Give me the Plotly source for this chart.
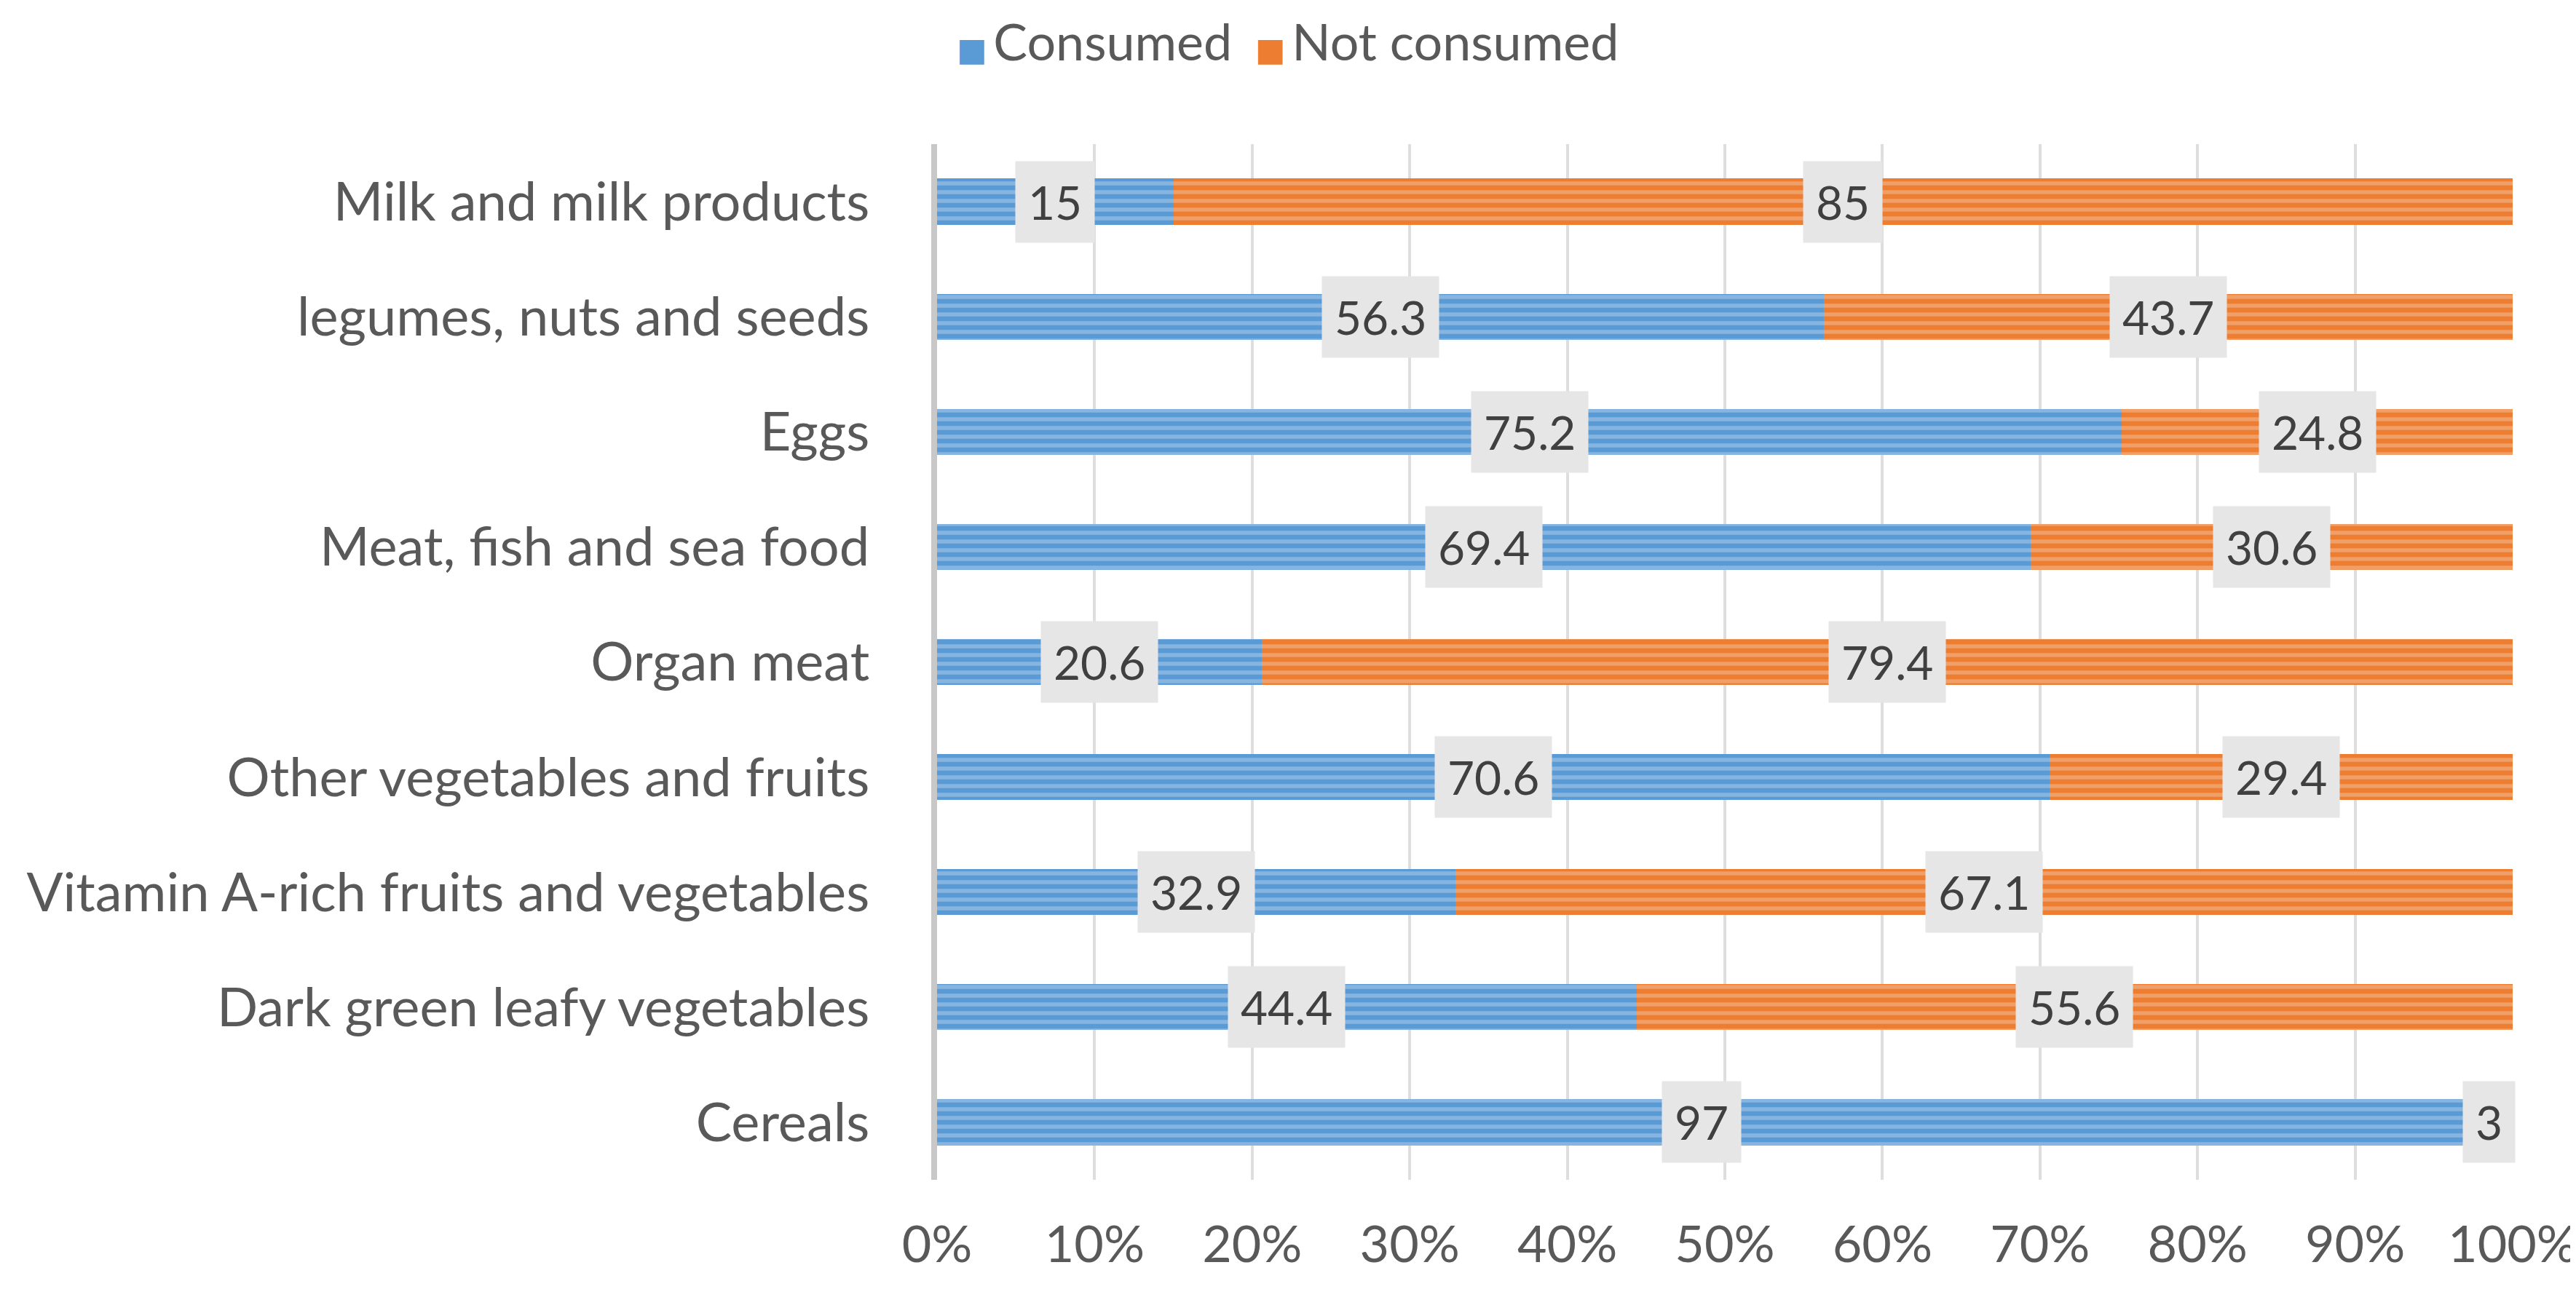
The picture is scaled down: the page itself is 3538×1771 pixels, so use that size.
import plotly.graph_objects as go

categories = ["Milk and milk products", "legumes, nuts and seeds", "Eggs",
              "Meat, fish and sea food", "Organ meat", "Other vegetables and fruits",
              "Vitamin A-rich fruits and vegetables", "Dark green leafy vegetables",
              "Cereals"]
consumed = [15, 56.3, 75.2, 69.4, 20.6, 70.6, 32.9, 44.4, 97]
not_consumed = [85, 43.7, 24.8, 30.6, 79.4, 29.4, 67.1, 55.6, 3]
x_ticks = [0, 10, 20, 30, 40, 50, 60, 70, 80, 90, 100]

FONT = "Lato, Noto Sans, sans-serif"
blue, blue_lt = "#5B9BD5", "#B5D0EC"
orange, orange_lt = "#ED7D31", "#F6C2A0"

fig = go.Figure()
fig.add_trace(go.Bar(
    y=categories, x=consumed, name="Consumed", orientation="h",
    marker=dict(color=blue, line=dict(width=0),
                pattern=dict(shape="-", bgcolor=blue, fgcolor=blue_lt,
                             size=12, solidity=0.45)),
))
fig.add_trace(go.Bar(
    y=categories, x=not_consumed, name="Not consumed", orientation="h",
    marker=dict(color=orange, line=dict(width=0),
                pattern=dict(shape="-", bgcolor=orange, fgcolor=orange_lt,
                             size=12, solidity=0.45)),
))

# data labels in grey boxes at segment centres
for cat, c, n in zip(categories, consumed, not_consumed):
    for xc, val in ((c / 2, c), (c + n / 2, n)):
        fig.add_annotation(x=xc, y=cat, text=f"{val:g}", showarrow=False,
                           font=dict(family=FONT, size=64, color="#404040"),
                           bgcolor="#E7E6E6", borderpad=17)

# legend drawn as text with larger square swatches
for lx, name, col in ((0.0115, "Consumed", blue), (0.201, "Not consumed", orange)):
    fig.add_annotation(xref="paper", yref="paper", x=lx, y=1.1,
                       xanchor="left", yanchor="middle", showarrow=False,
                       text=(f'<span style="color:{col};font-family:DejaVu Sans;'
                             f'font-size:44px">■</span>\u2009{name}'),
                       font=dict(family=FONT, size=70, color="#595959"))

fig.update_layout(
    width=3538, height=1771,
    barmode="stack", bargap=0.6, showlegend=False,
    plot_bgcolor="white", paper_bgcolor="white",
    margin=dict(l=1279, r=95, t=190, b=158, autoexpand=False),
    font=dict(family=FONT, color="#595959"),
)
fig.update_xaxes(range=[0, 100], tickvals=x_ticks,
                 ticktext=[f"{t}%" for t in x_ticks],
                 tickfont=dict(family=FONT, size=70, color="#595959"),
                 showgrid=True, gridcolor="#DEDEDE", gridwidth=4,
                 zeroline=False, showline=False, ticks="",
                 ticklabelstandoff=42, automargin=False)
fig.update_yaxes(autorange="reversed",
                 tickfont=dict(family=FONT, size=74, color="#595959"),
                 showline=True, linecolor="#C8C8C8", linewidth=8,
                 showgrid=False, ticks="", ticklabelstandoff=70, automargin=False)

fig.write_html("out.html")
